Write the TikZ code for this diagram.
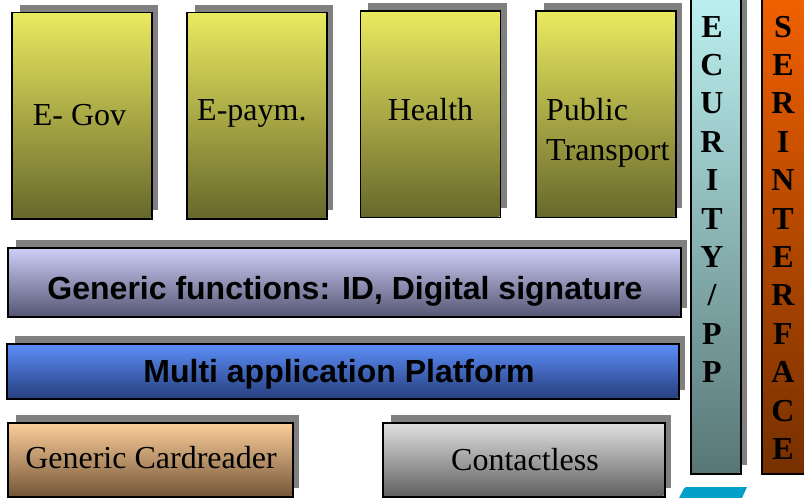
\documentclass[tikz,border=0pt]{standalone}
\usepackage{fontspec}
\setmainfont{Liberation Serif}
\setsansfont{Liberation Sans}
\usetikzlibrary{shadows}

\definecolor{shadowgray}{RGB}{128,128,128}
\definecolor{apptop}{RGB}{234,234,96}
\definecolor{appbot}{RGB}{104,104,44}
\definecolor{gentop}{RGB}{206,206,248}
\definecolor{genbot}{RGB}{88,88,118}
\definecolor{multop}{RGB}{92,142,248}
\definecolor{mulbot}{RGB}{40,64,128}
\definecolor{cardtop}{RGB}{252,206,154}
\definecolor{cardbot}{RGB}{118,88,58}
\definecolor{ctltop}{RGB}{224,224,224}
\definecolor{ctlbot}{RGB}{98,98,98}
\definecolor{sectop}{RGB}{200,255,255}
\definecolor{secbot}{RGB}{88,118,118}
\definecolor{sertop}{RGB}{255,102,0}
\definecolor{serbot}{RGB}{118,48,0}
\definecolor{tabcyan}{RGB}{0,160,200}

\begin{document}
\begin{tikzpicture}[x=1pt,y=-1pt,
  shadowed/.style={drop shadow={shadow xshift=7.5pt,shadow yshift=8pt,fill=shadowgray,opacity=1}},
  layer/.style={shadowed,draw=none,inner sep=0pt,outer sep=0pt},
  appbox/.style={layer,top color=apptop,bottom color=appbot,minimum width=138.5pt,minimum height=205pt},
  frame/.style={draw=black,line width=1.4pt},
  serif/.style={inner sep=0pt,font=\fontsize{32}{38}\selectfont},
  heavy/.style={inner sep=0pt,font=\fontsize{32}{38}\selectfont\sffamily\bfseries},
  vletter/.style={inner sep=0pt,anchor=base,font=\fontsize{32}{38}\selectfont\bfseries}
]
\useasboundingbox (0,0) rectangle (804,498);
\clip (0,0) rectangle (804,498);

% application boxes
\node[appbox] (egov) at (81.25,115) {};
\node[appbox] (epay) at (256.25,115) {};
\node[appbox] (health) at (430,113.5) {};
\node[appbox] (transport) at (605.25,113.5) {};
\foreach \b in {egov,epay,health,transport}
  \draw[frame] (\b.north west) rectangle ([xshift=1.5pt,yshift=-1.5pt]\b.south east);

\node[serif,anchor=base] (tegov) at (79.5,125) {E- Gov};
\node[serif,anchor=base west] (tepay) at (197,120) {E-paym.};
\node[serif,anchor=base] (thealth) at (430.5,120) {Health};
\node[serif,anchor=base west] (tpub) at (546,120.5) {Public};
\node[serif,anchor=base west] (ttrans) at (546,160) {Transport};

% horizontal layers
\node[layer,top color=gentop,bottom color=genbot,minimum width=671.5pt,minimum height=67.5pt] (generic) at (343.75,281.75) {};
\node[layer,top color=multop,bottom color=mulbot,minimum width=670.5pt,minimum height=53.5pt] (multi) at (342.25,370.75) {};
\node[layer,top color=cardtop,bottom color=cardbot,minimum width=283.5pt,minimum height=72.5pt] (card) at (149.75,459.25) {};
\node[layer,top color=ctltop,bottom color=ctlbot,minimum width=280.5pt,minimum height=72.5pt] (contact) at (523.25,459.25) {};
\foreach \b in {generic,multi,card,contact}
  \draw[frame] (\b.north west) rectangle ([xshift=1.5pt,yshift=-1.5pt]\b.south east);

\node[heavy,anchor=base] (tgeneric) at (345,299) {Generic functions: ID, Digital signature};
\node[heavy,anchor=base] (tmulti) at (339,382) {Multi application Platform};
\node[serif,anchor=base] (tcard) at (151,468) {Generic Cardreader};
\node[serif,anchor=base] (tcontact) at (525,470) {Contactless};

% vertical bars
\node[layer,top color=sectop,bottom color=secbot,minimum width=48.5pt,minimum height=532.5pt] (security) at (715.25,206.25) {};
\node[layer,top color=sertop,bottom color=serbot,minimum width=68pt,minimum height=532.5pt] (serint) at (796,206.25) {};
\foreach \b in {security,serint}
  \draw[frame] (\b.north west) rectangle ([xshift=1.5pt,yshift=-1.5pt]\b.south east);

\foreach \l [count=\i] in {E,C,U,R,I,T,Y,/,P,P}
  \node[vletter] (sec\i) at (712,{37+38.4*(\i-1)}) {\l};
\foreach \l [count=\i] in {S,E,R,I,N,T,E,R,F,A,C,E}
  \node[vletter] (ser\i) at (783,{37+38.4*(\i-1)}) {\l};

% tab at the lower edge
\fill[tabcyan] (679,498) -- (684,488.5) to[out=60,in=180] (688,487) -- (747,487) -- (742,498) -- cycle;
\end{tikzpicture}
\end{document}
